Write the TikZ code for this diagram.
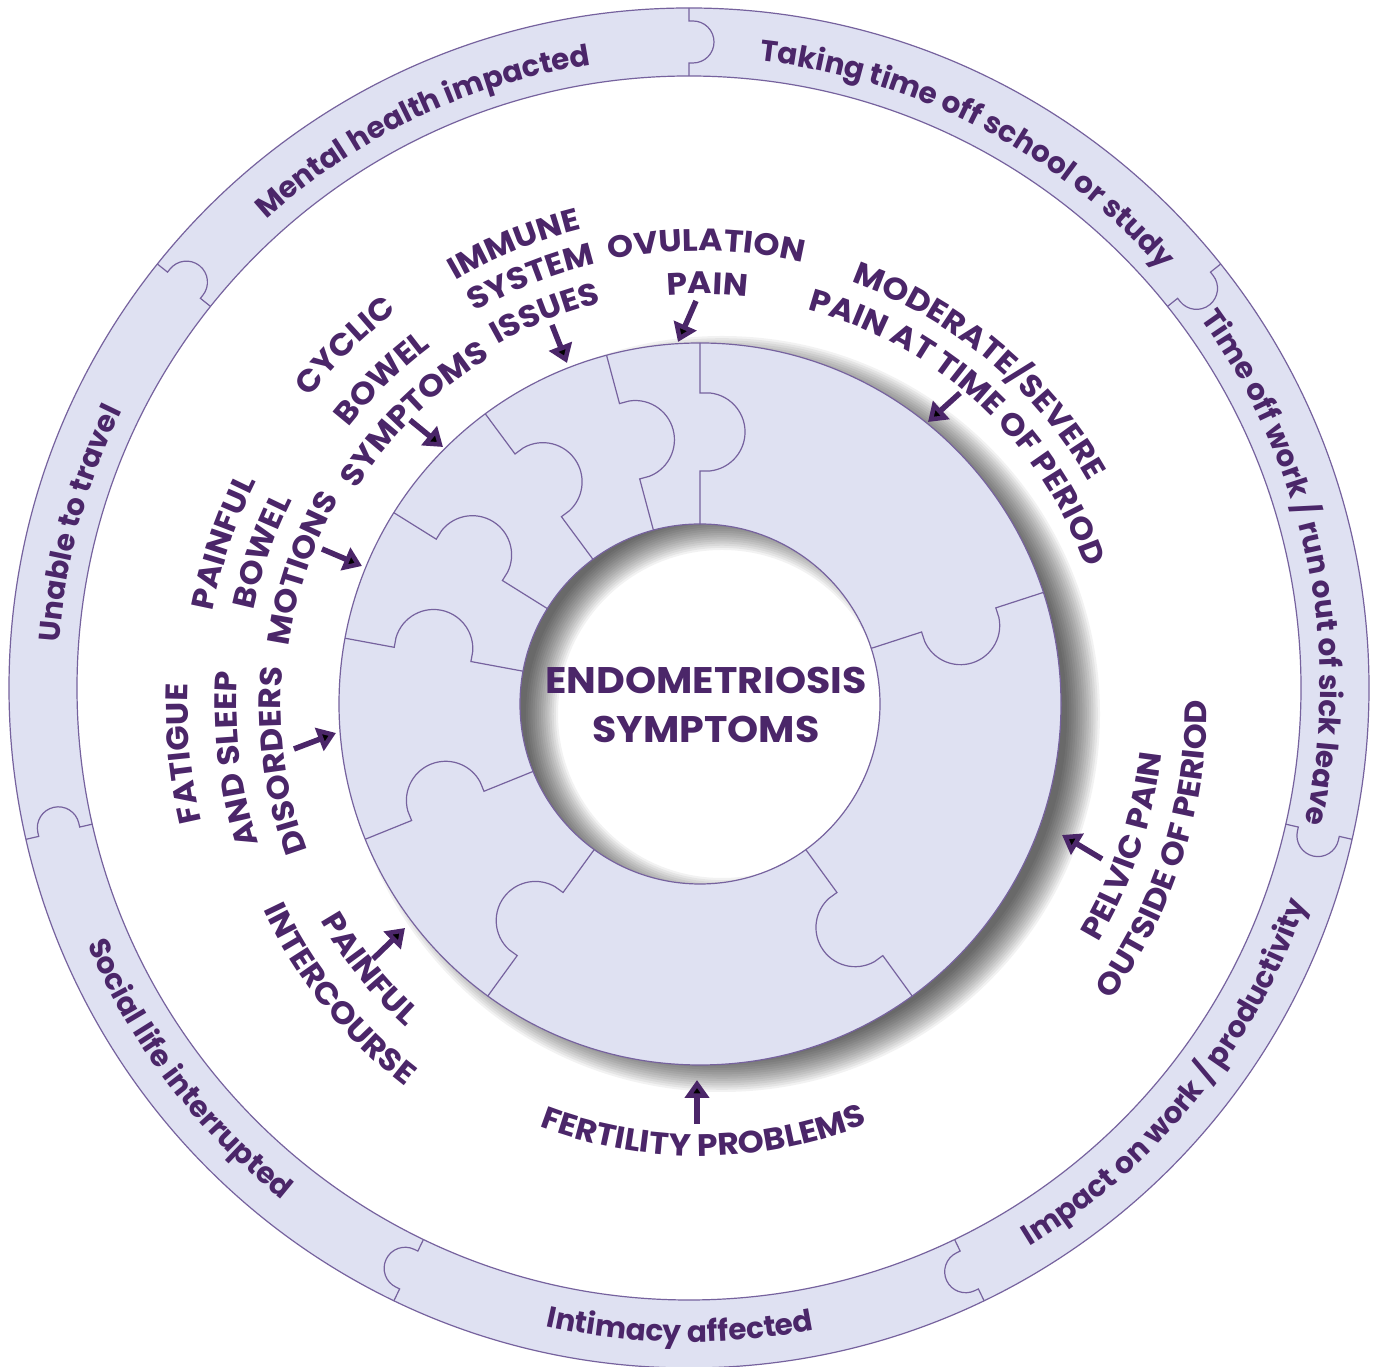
\documentclass[tikz,border=0pt]{standalone}
\usepackage{fontspec}
\setmainfont{Poppins}
\newfontfamily\widefam{Poppins}[FakeStretch=1.07]
\usetikzlibrary{decorations.text,arrows.meta}
\definecolor{ringfill}{RGB}{223,225,242}
\definecolor{ringline}{RGB}{118,98,158}
\definecolor{txt}{RGB}{75,38,105}
\newcommand\ofont{\fontsize{29.5}{31}\selectfont\bfseries}
\newcommand\lfont{\widefam\fontsize{31}{32}\selectfont\bfseries}
\newcommand\cwarc[4]{\path[decorate,decoration={text along path,text align=center,text color=txt,text={#4}}] ([shift={(#1)}]#2+75:#3) arc[start angle=#2+75,end angle=#2-75,radius=#3];}
\newcommand\ccwarc[4]{\path[decorate,decoration={text along path,text align=center,text color=txt,text={#4}}] ([shift={(#1)}]#2-75:#3) arc[start angle=#2-75,end angle=#2+75,radius=#3];}
\tikzset{
  ringedge/.style={draw=ringline,line width=1.2pt},
  pointer/.style={draw=txt,line width=5.5pt,-{Triangle[length=18pt,width=24pt]}},
  centertext/.style={text=txt,font=\widefam\fontsize{37}{40}\selectfont\bfseries,inner sep=0pt}
}
\begin{document}
\begin{tikzpicture}
\useasboundingbox (0,0) rectangle (1378pt,1367pt);
\fill[white] (0,0) rectangle (1378pt,1367pt);
\coordinate (oc) at (689pt,679pt);
\coordinate (pc) at (700pt,663pt);
\coordinate (sc) at (722pt,653pt);

% outer ring
\fill[ringfill,even odd rule] (oc) circle[radius=680pt] (oc) circle[radius=612pt];
\draw[ringedge] (oc) circle[radius=680pt];
\draw[ringedge] (oc) circle[radius=612pt];
\foreach \a in {90,38.571,-12.857,-64.286,-115.714,-167.143,141.429}{
  \draw[ringedge,shift={(oc)},rotate=\a] (680pt,0pt) -- (667pt,0pt) -- (667pt,-4pt)
    arc[start angle=0,end angle=-180,radius=21pt] -- (625pt,0pt) -- (612pt,0pt);
}

% shadow of puzzle ring
\foreach \k in {0,...,15}{
  \fill[black,opacity=0.05,even odd rule] (sc) circle[radius={345pt+\k*2.2pt}] (sc) circle[radius={196pt-\k*2.133pt}];
}

% puzzle ring
\fill[ringfill,even odd rule] (pc) circle[radius=361pt] (pc) circle[radius=180pt];
\draw[ringedge] (pc) circle[radius=361pt];
\draw[ringedge] (pc) circle[radius=180pt];
\foreach \a in {90,105,126.5,148,169.5,202,234,306,18}{
  \draw[ringedge,shift={(pc)},rotate=\a] (361pt,0pt) -- (311pt,0pt) -- (311pt,-10pt)
    arc[start angle=-6.1,end angle=-173.9,radius=39.2pt] -- (233pt,0pt) -- (180pt,0pt);
}

% centre
\node[centertext] (t1) at (706pt,687pt) {ENDOMETRIOSIS};
\node[centertext] (t2) at (706pt,638pt) {SYMPTOMS};

% outer ring texts
\cwarc{oc}{115.5}{631pt}{|\ofont|Mental health impacted}
\cwarc{oc}{62.5}{631pt}{|\ofont|Taking time off school or study}
\cwarc{oc}{11.7}{631pt}{|\ofont|Time off work / run out of sick leave}
\ccwarc{oc}{-38.9}{654pt}{|\ofont|Impact on work / productivity}
\ccwarc{oc}{-90.8}{654pt}{|\ofont|Intimacy affected}
\ccwarc{oc}{-142.7}{654pt}{|\ofont|Social life interrupted}
\cwarc{oc}{164.9}{631pt}{|\ofont|Unable to travel}

% symptom labels
\cwarc{pc}{112}{489pt}{|\lfont|IMMUNE}
\cwarc{pc}{111.6}{452pt}{|\lfont|SYSTEM}
\cwarc{pc}{111.6}{413pt}{|\lfont|ISSUES}
\cwarc{pc}{89.2}{453pt}{|\lfont|OVULATION}
\cwarc{pc}{89}{410pt}{|\lfont|PAIN}
\cwarc{pc}{50}{448pt}{|\lfont|MODERATE/SEVERE}
\cwarc{pc}{47.1}{409pt}{|\lfont|PAIN AT TIME OF PERIOD}
\cwarc{pc}{134.7}{496pt}{|\lfont|CYCLIC}
\cwarc{pc}{134.4}{447pt}{|\lfont|BOWEL}
\cwarc{pc}{134.6}{405pt}{|\lfont|SYMPTOMS}
\cwarc{pc}{161.3}{496pt}{|\lfont|PAINFUL}
\cwarc{pc}{160.8}{456pt}{|\lfont|BOWEL}
\cwarc{pc}{161.2}{415pt}{|\lfont|MOTIONS}
\cwarc{pc}{185.5}{512pt}{|\lfont|FATIGUE}
\cwarc{pc}{186.8}{463pt}{|\lfont|AND SLEEP}
\cwarc{pc}{187.7}{419pt}{|\lfont|DISORDERS}
\ccwarc{pc}{218.7}{437pt}{|\lfont|PAINFUL}
\ccwarc{pc}{218.8}{483pt}{|\lfont|INTERCOURSE}
\ccwarc{pc}{270.5}{452pt}{|\lfont|FERTILITY PROBLEMS}
\ccwarc{pc}{-18.5}{464pt}{|\lfont|PELVIC PAIN}
\ccwarc{pc}{-17.7}{507pt}{|\lfont|OUTSIDE OF PERIOD}

% arrows
\coordinate (ovuA) at (696pt,1066pt); \coordinate (ovuB) at (678pt,1025pt);
\coordinate (immA) at (552pt,1042pt); \coordinate (immB) at (567pt,1004pt);
\coordinate (modA) at (960pt,974pt);  \coordinate (modB) at (928pt,945pt);
\coordinate (cycA) at (410pt,947pt);  \coordinate (cycB) at (443pt,920pt);
\coordinate (pbmA) at (322pt,818pt);  \coordinate (pbmB) at (362pt,801pt);
\coordinate (fatA) at (294pt,618pt);  \coordinate (fatB) at (336pt,634pt);
\coordinate (intA) at (373pt,408pt);  \coordinate (intB) at (405pt,439pt);
\coordinate (ferA) at (697pt,243pt);  \coordinate (ferB) at (697pt,287pt);
\coordinate (pelA) at (1102pt,508pt); \coordinate (pelB) at (1062pt,532pt);
\foreach \n in {ovu,imm,mod,cyc,pbm,fat,int,fer,pel}{
  \draw[pointer] (\n A) -- (\n B);
}
\end{tikzpicture}
\end{document}
